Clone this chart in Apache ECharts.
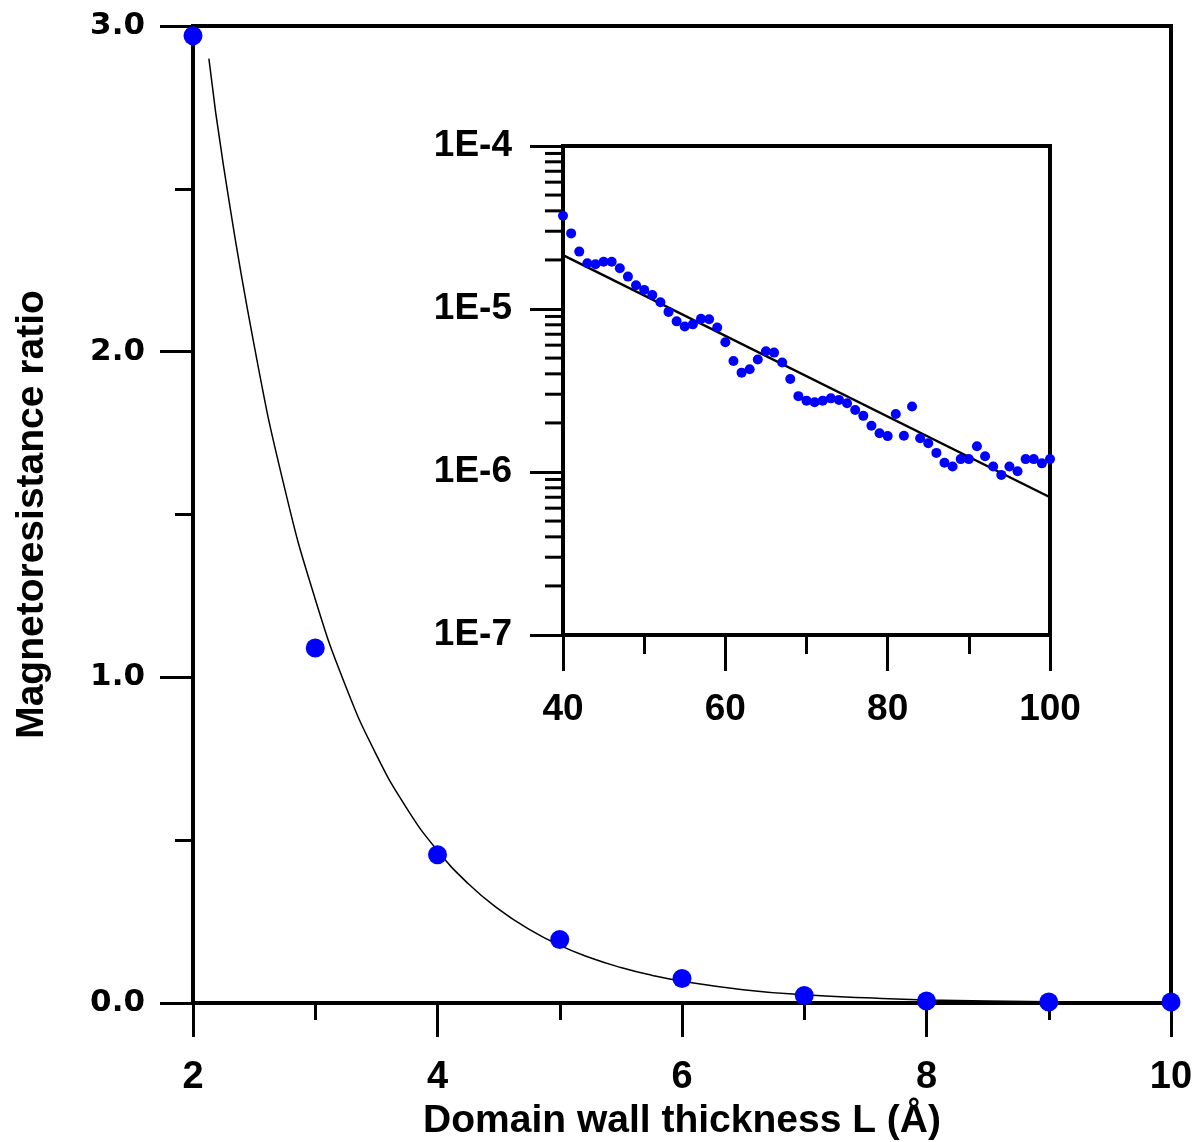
<!DOCTYPE html>
<html>
<head>
<meta charset="utf-8">
<title>Magnetoresistance ratio vs domain wall thickness</title>
<script src="https://cdn.jsdelivr.net/npm/echarts@6.0.0/dist/echarts.min.js"></script>
<style>
  html, body { margin: 0; padding: 0; background: #fff; }
  #chart { width: 1198px; height: 1142px; }
</style>
</head>
<body>
<div id="chart"></div>
<script>
// main panel: measured points
const mainX = [2, 3, 4, 5, 6, 7, 8, 9, 10];
const mainY = [2.97, 1.09, 0.455, 0.195, 0.075, 0.023, 0.006, 0.003, 0.003];

// main panel: fitted curve
const fitX = [2.13, 2.25, 2.5, 2.75, 3.0, 3.25, 3.5, 3.75, 4.0, 4.25, 4.5, 4.75, 5.0, 5.25, 5.5, 5.75, 6.0, 6.5, 7.0, 7.5, 8.0, 9.0, 10.0];
const fitY = [2.90, 2.57, 2.02, 1.58, 1.24, 0.972, 0.762, 0.597, 0.468, 0.367, 0.288, 0.226, 0.177, 0.139, 0.109, 0.0853, 0.067, 0.041, 0.025, 0.016, 0.0095, 0.0036, 0.0014];

// inset: points
const insetX = [
  40, 41, 42, 43, 44, 45, 46, 47, 48, 49,
  50, 51, 52, 53, 54, 55, 56, 57, 58, 59,
  60, 61, 62, 63, 64, 65, 66, 67, 68, 69,
  70, 71, 72, 73, 74, 75, 76, 77, 78, 79,
  80, 81, 82, 83, 84, 85, 86, 87, 88, 89,
  90, 91, 92, 93, 94, 95, 96, 97, 98, 99,
  100
];
const insetY = [
  3.73e-5, 2.91e-5, 2.25e-5, 1.91e-5, 1.88e-5, 1.95e-5, 1.95e-5, 1.78e-5, 1.58e-5, 1.40e-5,
  1.31e-5, 1.22e-5, 1.10e-5, 9.6e-6, 8.4e-6, 7.8e-6, 8.05e-6, 8.7e-6, 8.65e-6, 7.7e-6,
  6.25e-6, 4.8e-6, 4.07e-6, 4.27e-6, 4.9e-6, 5.5e-6, 5.4e-6, 4.7e-6, 3.72e-6, 2.92e-6,
  2.74e-6, 2.68e-6, 2.74e-6, 2.83e-6, 2.77e-6, 2.64e-6, 2.40e-6, 2.21e-6, 1.92e-6, 1.73e-6,
  1.66e-6, 2.27e-6, 1.67e-6, 2.52e-6, 1.61e-6, 1.50e-6, 1.31e-6, 1.14e-6, 1.08e-6, 1.20e-6,
  1.20e-6, 1.44e-6, 1.25e-6, 1.08e-6, 9.6e-7, 1.08e-6, 1.01e-6, 1.20e-6, 1.20e-6, 1.13e-6,
  1.20e-6
];

// inset: straight fit line
const insetFitX = [40, 100];
const insetFitY = [2.14e-5, 7.0e-7];

// inset: minor ticks of the log axis
const insetMinorTicks = [
  2e-7, 3e-7, 4e-7, 5e-7, 6e-7, 7e-7, 8e-7, 9e-7,
  2e-6, 3e-6, 4e-6, 5e-6, 6e-6, 7e-6, 8e-6, 9e-6,
  2e-5, 3e-5, 4e-5, 5e-5, 6e-5, 7e-5, 8e-5, 9e-5
];

const zip = (a, b) => a.map((v, i) => [v, b[i]]);

const chart = echarts.init(document.getElementById("chart"));

const black = "#000";
const labelFont = "Liberation Sans";

const option = {
  animation: false,
  backgroundColor: "#fff",
  grid: [
    { left: 193, right: 27, top: 26, bottom: 139, show: true, borderColor: black, borderWidth: 4, outerBoundsMode: "none", containLabel: false },
    { left: 563, top: 146, width: 487, height: 489, show: true, borderColor: black, borderWidth: 4, backgroundColor: "#fff", z: 5, outerBoundsMode: "none", containLabel: false }
  ],
  xAxis: [
    {
      gridIndex: 0, type: "value", min: 2, max: 10, interval: 2,
      name: "Domain wall thickness L (\u00C5)", nameLocation: "middle", nameGap: 96,
      nameTextStyle: { fontFamily: labelFont, fontWeight: "bold", fontSize: 39, color: black },
      axisLine: { onZero: false, lineStyle: { color: black, width: 4 } },
      axisTick: { length: 34, lineStyle: { color: black, width: 3 } },
      minorTick: { show: true, splitNumber: 2, length: 17, lineStyle: { color: black, width: 3 } },
      splitLine: { show: false },
      axisLabel: { margin: 56, fontFamily: labelFont, fontWeight: "bold", fontSize: 38, color: black }
    },
    {
      gridIndex: 1, type: "value", min: 40, max: 100, interval: 20,
      axisLine: { onZero: false, lineStyle: { color: black, width: 4 } },
      axisTick: { length: 36, lineStyle: { color: black, width: 3 } },
      minorTick: { show: true, splitNumber: 2, length: 19, lineStyle: { color: black, width: 3 } },
      splitLine: { show: false },
      axisLabel: { margin: 56, fontFamily: labelFont, fontWeight: "bold", fontSize: 37, color: black },
      z: 6
    }
  ],
  yAxis: [
    {
      gridIndex: 0, type: "value", min: 0, max: 3, interval: 1,
      name: "Magnetoresistance ratio", nameLocation: "middle", nameGap: 141,
      nameTextStyle: { fontFamily: labelFont, fontWeight: "bold", fontSize: 39, color: black },
      axisLine: { onZero: false, lineStyle: { color: black, width: 4 } },
      axisTick: { length: 33, lineStyle: { color: black, width: 3 } },
      minorTick: { show: true, splitNumber: 2, length: 18, lineStyle: { color: black, width: 3 } },
      splitLine: { show: false },
      axisLabel: {
        margin: 48, fontFamily: "DejaVu Sans", fontWeight: "bold", fontSize: 31, color: black,
        formatter: v => v.toFixed(1)
      }
    },
    {
      gridIndex: 1, type: "log", logBase: 10, min: 1e-7, max: 1e-4, interval: 1,
      axisLine: { onZero: false, lineStyle: { color: black, width: 4 } },
      axisTick: { length: 33, lineStyle: { color: black, width: 3 } },
      splitLine: { show: false },
      axisLabel: {
        margin: 51, fontFamily: labelFont, fontWeight: "bold", fontSize: 37, color: black,
        formatter: v => "1E" + Math.round(Math.log10(v))
      },
      z: 6
    }
  ],
  series: [
    {
      type: "line", xAxisIndex: 0, yAxisIndex: 0,
      data: zip(fitX, fitY), smooth: 0.5, showSymbol: false, symbol: "none",
      lineStyle: { color: black, width: 1.5 }, z: 2
    },
    {
      type: "scatter", xAxisIndex: 0, yAxisIndex: 0,
      data: zip(mainX, mainY), symbolSize: 19, clip: false,
      itemStyle: { color: "#0000ff", opacity: 1 }, z: 4
    },
    {
      type: "custom", xAxisIndex: 1, yAxisIndex: 1, clip: false, z: 7,
      data: insetMinorTicks.map(v => [40, v]),
      renderItem: function (params, api) {
        const p = api.coord([api.value(0), api.value(1)]);
        return {
          type: "line",
          shape: { x1: p[0] - 18, y1: p[1], x2: p[0], y2: p[1] },
          style: { stroke: black, lineWidth: 3 }
        };
      }
    },
    {
      type: "line", xAxisIndex: 1, yAxisIndex: 1,
      data: zip(insetFitX, insetFitY), showSymbol: false, symbol: "none",
      lineStyle: { color: black, width: 2.5 }, z: 7
    },
    {
      type: "scatter", xAxisIndex: 1, yAxisIndex: 1,
      data: zip(insetX, insetY), symbolSize: 10, clip: false,
      itemStyle: { color: "#0000ff", opacity: 1 }, z: 8
    }
  ]
};

chart.setOption(option);
</script>
</body>
</html>
